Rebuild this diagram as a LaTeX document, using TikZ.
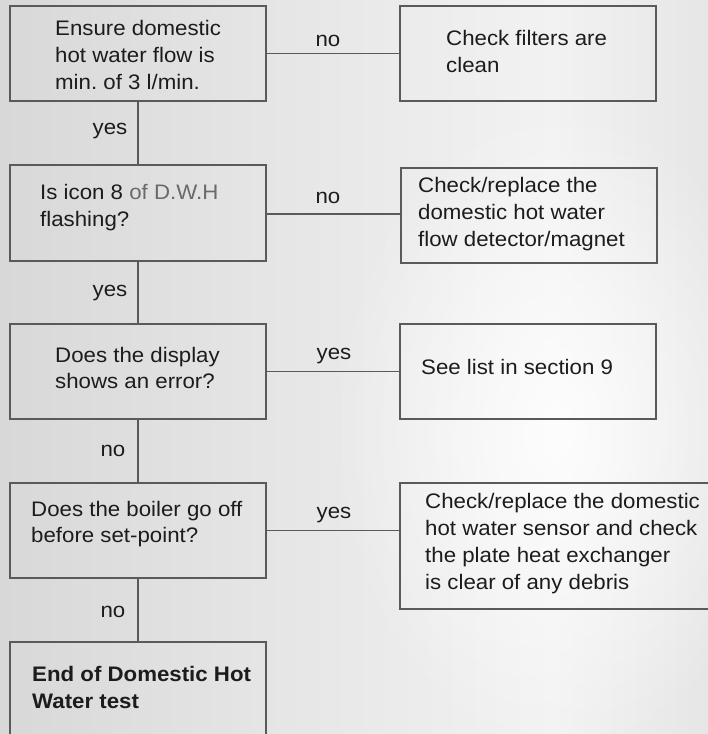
\documentclass[tikz,border=0pt]{standalone}
\usepackage{fontspec}
\setmainfont{Liberation Sans}[FakeStretch=1.06]
\usetikzlibrary{fadings}
\frenchspacing
\definecolor{bgA}{HTML}{D8D8D8}
\definecolor{bgB}{HTML}{E4E4E4}
\definecolor{bgC}{HTML}{F2F2F2}
\definecolor{bgD}{HTML}{E6E6E6}
\definecolor{lineC}{HTML}{5A5A5A}
\definecolor{textC}{HTML}{1C1C1C}
\definecolor{greyT}{HTML}{6A6A6A}
\pgfdeclarehorizontalshading{bgshade}{100bp}{color(0bp)=(bgA); color(25bp)=(bgA); color(42bp)=(bgB); color(64bp)=(bgC); color(75bp)=(bgD); color(100bp)=(bgD)}
\tikzfading[name=glowfade, inner color=transparent!0, outer color=transparent!100]
\begin{document}
\begin{tikzpicture}[x=1pt,y=-1pt,
  box/.style={draw=lineC, line width=1.7pt, inner sep=0pt, rectangle},
  conn/.style={draw=lineC, line width=1.7pt},
  txt/.style={font=\fontsize{21}{26.8}\selectfont, align=left, inner sep=0pt, text=textC, anchor=west},
  lbl/.style={font=\fontsize{21}{26.8}\selectfont, inner sep=0pt, text=textC}]
\useasboundingbox (0,0) rectangle (708,734);
\clip (0,0) rectangle (708,734);
\shade[shading=bgshade] (0,0) rectangle (708,734);
\fill[white, path fading=glowfade, fill opacity=0.85] (560,430) ellipse (230 and 330);

% left column boxes
\node[box, minimum width=256pt, minimum height=95pt] (b1) at (138,53.5) {};
\node[box, minimum width=256pt, minimum height=96pt] (b2) at (138,213) {};
\node[box, minimum width=256pt, minimum height=95pt] (b3) at (138,371.5) {};
\node[box, minimum width=256pt, minimum height=95pt] (b4) at (138,530.5) {};
\node[box, minimum width=256pt, minimum height=104pt] (b5) at (138,694) {};
% right column boxes
\node[box, minimum width=256pt, minimum height=95pt] (r1) at (528,53.5) {};
\node[box, minimum width=256pt, minimum height=95pt] (r2) at (529,215.5) {};
\node[box, minimum width=256pt, minimum height=95pt] (r3) at (528,371.5) {};
\node[box, minimum width=312pt, minimum height=126pt] (r4) at (556,546) {};

% texts
\node[txt] (t1) at (55,55) {Ensure domestic\\hot water flow is\\min. of 3 l/min.};
\node[txt] (t2) at (40,207.5) {Is icon 8 {\color{greyT}of D.W.H}\\flashing?};
\node[txt] (t3) at (55,368) {Does the display\\shows an error?};
\node[txt] (t4) at (31,524) {Does the boiler go off\\before set-point?};
\node[txt, font=\fontsize{21}{26.8}\selectfont\bfseries] (t5) at (32,687.5) {End of Domestic Hot\\Water test};
\node[txt] (u1) at (446,51.5) {Check filters are\\clean};
\node[txt] (u2) at (418,214) {Check/replace the\\domestic hot water\\flow detector/magnet};
\node[txt] (u3) at (421,367) {See list in section 9};
\node[txt] (u4) at (425,543.5) {Check/replace the domestic\\hot water sensor and check\\the plate heat exchanger\\is clear of any debris};

% connectors
\draw[conn] (b1.south) -- (b2.north);
\draw[conn] (b2.south) -- (b3.north);
\draw[conn] (b3.south) -- (b4.north);
\draw[conn] (b4.south) -- (b5.north);
\draw[conn] (b1.east) -- (r1.west);
\draw[conn] ([yshift=-1pt]b2.east) -- ([yshift=-1pt]b2.east -| r2.west);
\draw[conn] (b3.east) -- (r3.west);
\draw[conn] (b4.east) -- (b4.east -| r4.west);

% labels
\node[lbl] (l1) at (110,131) {yes};
\node[lbl] (l2) at (110,293) {yes};
\node[lbl] (l3) at (113,451) {no};
\node[lbl] (l4) at (113,612) {no};
\node[lbl] (l5) at (328,41) {no};
\node[lbl] (l6) at (328,198) {no};
\node[lbl] (l7) at (334,356) {yes};
\node[lbl] (l8) at (334,515) {yes};
\end{tikzpicture}
\end{document}
